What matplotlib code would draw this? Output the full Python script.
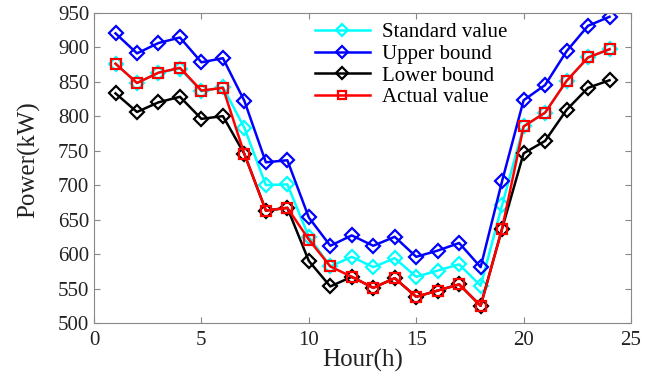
import matplotlib.pyplot as plt
import numpy as np

hours = list(range(1, 25))

standard = [876, 848, 863, 869, 836, 842, 783, 700, 701, 625, 582, 596,
            581, 594, 567, 576, 585, 554, 671, 785, 805, 851, 885, 897]
upper = [920, 891, 906, 914, 878, 884, 822, 733, 736, 653, 612, 627,
         612, 625, 596, 605, 616, 581, 706, 823, 845, 894, 931, 944]
lower = [833, 806, 820, 828, 796, 800, 745, 663, 667, 590, 553, 567,
         551, 565, 538, 547, 556, 525, 637, 746, 764, 809, 841, 852]
actual = [876, 848, 863, 870, 837, 841, 745, 663, 667, 621, 582, 567,
          551, 565, 538, 547, 556, 525, 637, 785, 805, 851, 885, 897]

plt.rcParams['font.family'] = ['Liberation Serif', 'DejaVu Serif']

fig = plt.figure(figsize=(6.67, 3.78), dpi=100)
ax = fig.add_axes([0.141, 0.1455, 0.805, 0.821])

mk = dict(markersize=7, markerfacecolor='none', markeredgewidth=1.6, linewidth=1.8)
ax.plot(hours, standard, color='cyan', marker='D', label='Standard value', **mk)
ax.plot(hours, upper, color='#0000ff', marker='D', label='Upper bound', **mk)
ax.plot(hours, lower, color='black', marker='D', label='Lower bound', **mk)
ax.plot(hours, actual, color='red', marker='s', label='Actual value', **mk)

ax.set_xlim(0, 25)
ax.set_ylim(500, 950)
ax.set_xticks([0, 5, 10, 15, 20, 25])
ax.set_yticks(np.arange(500, 951, 50))
ax.tick_params(direction='in', top=True, right=True, labelsize=15, length=4,
               color='#888888', labelcolor='#222222')
ax.tick_params(axis='x', pad=6)
for s in ax.spines.values():
    s.set_color('#888888')
ax.set_xlabel('Hour(h)', fontsize=18, labelpad=-1, color='#222222')
ax.set_ylabel('Power(kW)', fontsize=18, color='#222222')
ax.yaxis.set_label_coords(-0.10, 0.526)

ax.legend(loc='upper left', bbox_to_anchor=(0.385, 1.015), frameon=False, fontsize=15,
          handlelength=2.6, handletextpad=0.6, labelspacing=0.1, borderaxespad=0.3,
          markerscale=0.85)

fig.savefig('out.png', dpi=100)
